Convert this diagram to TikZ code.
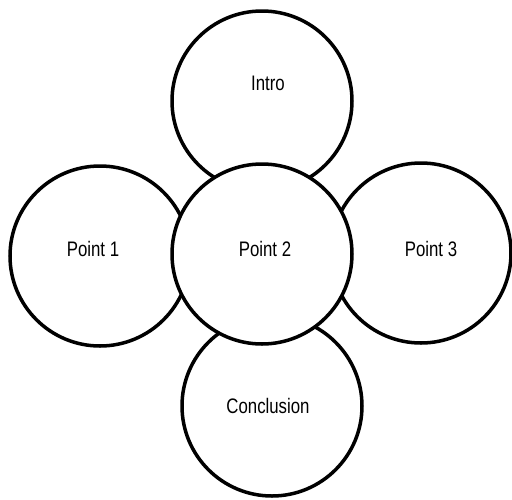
\documentclass[tikz,border=0pt]{standalone}
\usepackage{fontspec}
\setmainfont[FakeStretch=0.8]{Liberation Sans}
\begin{document}
\begin{tikzpicture}[x=1pt,y=-1pt,
  bub/.style={circle,draw=black,line width=3.5pt,fill=white,minimum size=180pt,inner sep=0pt},
  lbl/.style={font=\fontsize{21}{25}\selectfont,inner sep=0pt}]
\useasboundingbox (0,0) rectangle (512,499);
\node[bub] (intro) at (262,101) {};
\node[bub] (p1) at (100,256) {};
\node[bub] (p3) at (421,253) {};
\node[bub] (concl) at (272,406) {};
\node[bub] (p2) at (262,254) {};
\node[lbl] (tintro) at (268,83) {Intro};
\node[lbl] (tp1) at (93,249) {Point 1};
\node[lbl] (tp2) at (265,249) {Point 2};
\node[lbl] (tp3) at (431,249) {Point 3};
\node[lbl] (tconcl) at (268,406) {Conclusion};
\end{tikzpicture}
\end{document}
